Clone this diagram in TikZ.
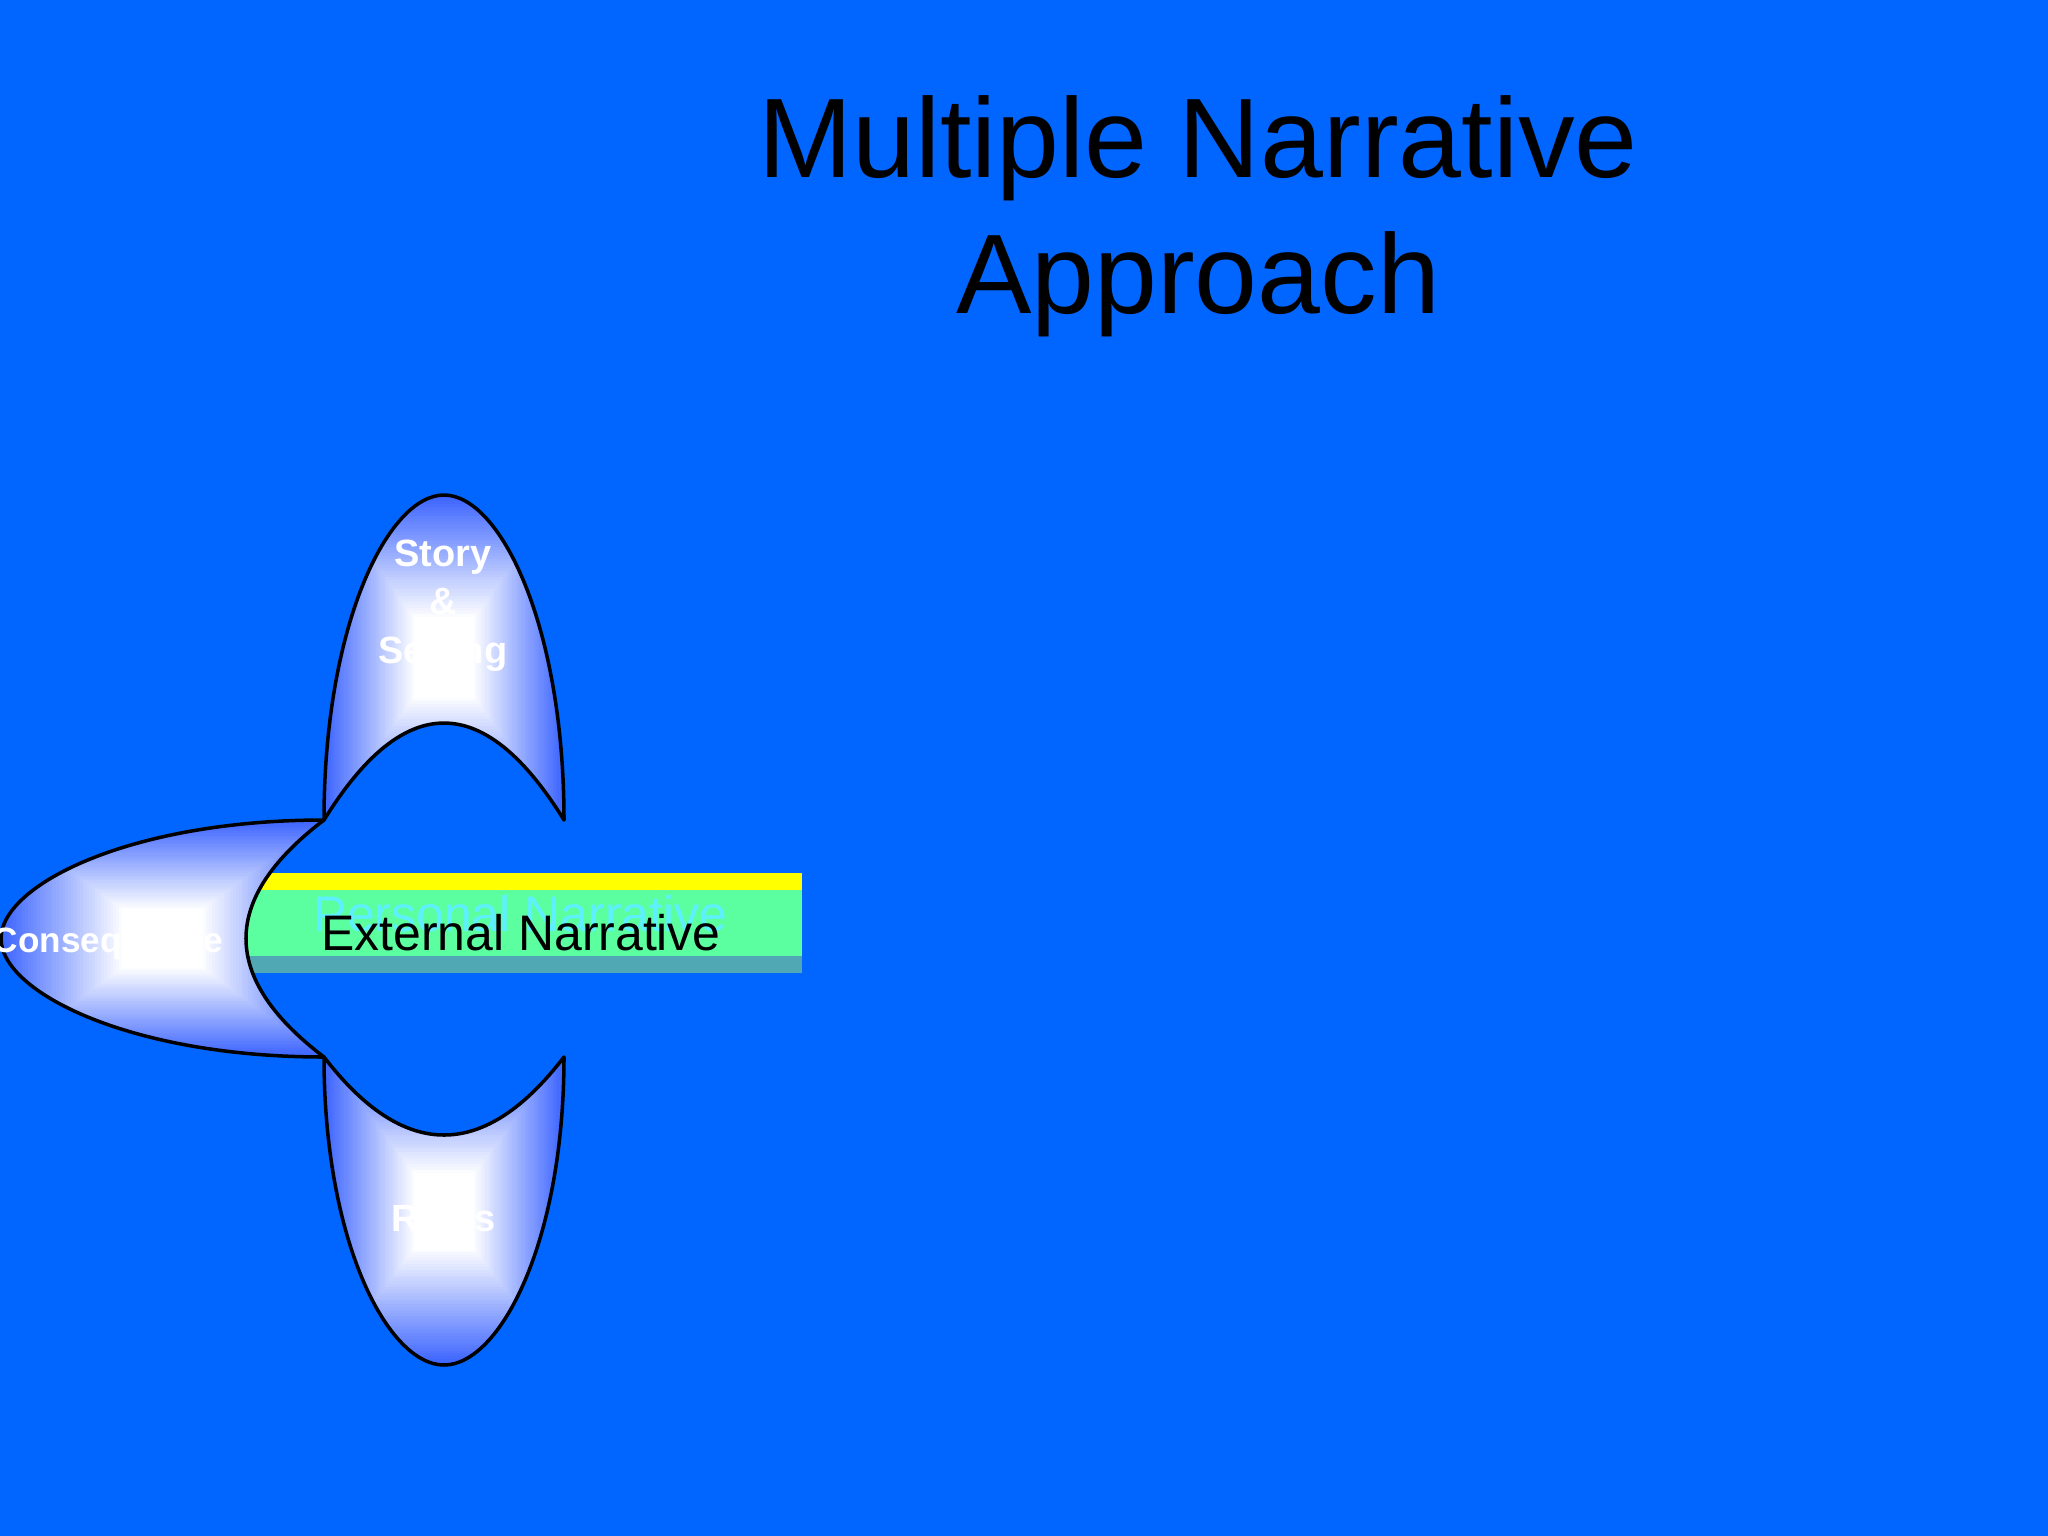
\documentclass[tikz,border=0pt]{standalone}
\usepackage{fontspec}
\setmainfont{Liberation Sans}
\definecolor{bgblue}{RGB}{0,102,255}
\definecolor{lobeblue}{RGB}{60,100,255}
\definecolor{baryellow}{RGB}{255,255,0}
\definecolor{bargreen}{RGB}{92,255,160}
\definecolor{barteal}{RGB}{80,168,180}
\definecolor{pncyan}{RGB}{95,240,255}

\newcommand\lobefill[4]{%
  \foreach \k in {0,...,40}{%
    \pgfmathsetmacro\lobeT{1-0.75*\k/40}%
    \pgfmathtruncatemacro\lobeP{100*(1-\k/40)}%
    \fill[lobeblue!\lobeP!white] ({#1-\lobeT*#3},{#2-\lobeT*#4}) rectangle ({#1+\lobeT*#3},{#2+\lobeT*#4});
  }%
}

\def\toplobepath{(324,820) .. controls (324,625) and (388,495) .. (444,495) .. controls (500,495) and (564,625) .. (564,820) .. controls (484,690.7) and (404,690.7) .. (324,820) -- cycle}
\def\bottomlobepath{(324,1057) .. controls (324,1242) and (388,1365) .. (444,1365) .. controls (500,1365) and (564,1242) .. (564,1057) .. controls (484,1161) and (404,1161) .. (324,1057) -- cycle}
\def\leftlobepath{(324,820) .. controls (130,820) and (1,885) .. (1,938.5) .. controls (1,992) and (130,1057) .. (324,1057) .. controls (220,978) and (220,899) .. (324,820) -- cycle}

\begin{document}
\begin{tikzpicture}[x=0.01cm,y=-0.01cm,
  lobeline/.style={draw=black,line width=1pt,line join=round},
  lobetext/.style={text=white,font=\fontsize{10.8}{13.66}\selectfont\bfseries,inner sep=0pt,anchor=base,align=center},
  bartext/.style={font=\fontsize{14.2}{17}\selectfont,inner sep=0pt,anchor=base},
  titletext/.style={font=\fontsize{32.15}{38.7}\selectfont,inner sep=0pt,anchor=base,text=black}]
\useasboundingbox (0,0) rectangle (2048,1536);
\fill[bgblue] (0,0) rectangle (2048,1536);
\node[titletext] (title1) at (1198,177) {Multiple Narrative};
\node[titletext] (title2) at (1198,313) {Approach};
% top lobe
\begin{scope}
  \clip \toplobepath;
  \lobefill{444}{657.5}{120}{162.5}
\end{scope}
\draw[lobeline] \toplobepath;
% bottom lobe
\begin{scope}
  \clip \bottomlobepath;
  \lobefill{444}{1211}{120}{154}
\end{scope}
\draw[lobeline] \bottomlobepath;
% bar
\fill[baryellow] (200,873) rectangle (802,890);
\fill[bargreen] (200,890) rectangle (802,956);
\fill[barteal] (200,956) rectangle (802,973);
% left lobe
\begin{scope}
  \clip \leftlobepath;
  \lobefill{162.5}{938.5}{161.5}{118.5}
\end{scope}
\draw[lobeline] \leftlobepath;
% bar texts
\node[bartext,text=pncyan] (personal) at (520.5,931) {Personal Narrative};
\node[bartext,text=black] (external) at (521,950) {External Narrative};
% lobe labels
\node[lobetext] (story) at (443,663) {Story\\\&\\Setting};
\node[lobetext,font=\fontsize{10}{12}\selectfont\bfseries] (conseq) at (108,952) {Consequence};
\node[lobetext] (rules) at (443.5,1231) {Rules};
\end{tikzpicture}
\end{document}
